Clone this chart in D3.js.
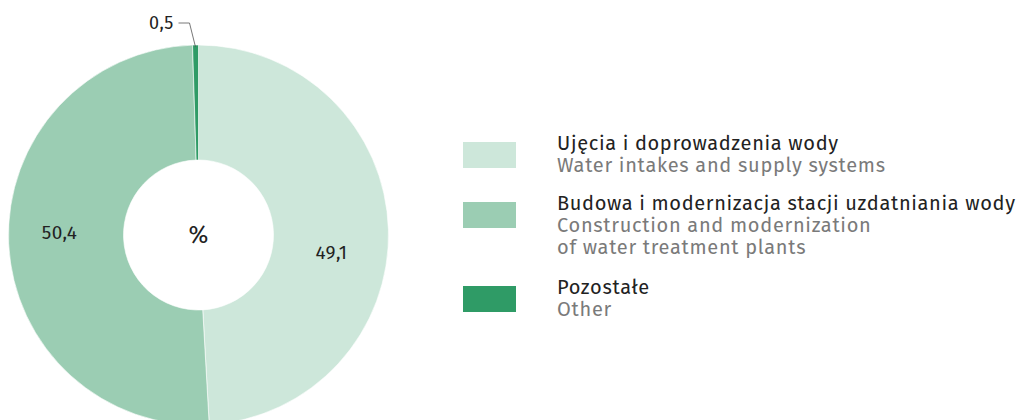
<!DOCTYPE html>
<html>
<head>
<meta charset="utf-8">
<script src="https://cdn.jsdelivr.net/npm/d3@7"></script>
<style>
  body { margin: 0; background: #fff; }
  svg { display: block; font-family: "Fira Sans", "Noto Sans", sans-serif; }
</style>
</head>
<body>
<div id="chart"></div>
<script>
// slice order clockwise from 12 o'clock
const labelsPl = ["Ujęcia i doprowadzenia wody", "Budowa i modernizacja stacji uzdatniania wody", "Pozostałe"];
const labelsEn = [["Water intakes and supply systems"], ["Construction and modernization", "of water treatment plants"], ["Other"]];
const values = [49.1, 50.4, 0.5];
const valueText = ["49,1", "50,4", "0,5"];
const colors = ["#cde7da", "#9bcdb3", "#2f9b66"];

const W = 1018, H = 420;
const cx = 198.5, cy = 235, R = 190, r0 = 75;

const svg = d3.select("#chart").append("svg")
  .attr("width", W)
  .attr("height", H);

const pie = d3.pie().sort(null).value(d => d);
const arcs = pie(values);
const arc = d3.arc().innerRadius(r0).outerRadius(R);

const g = svg.append("g").attr("transform", `translate(${cx},${cy})`);

g.selectAll("path")
  .data(arcs)
  .enter()
  .append("path")
  .attr("d", arc)
  .attr("fill", (d, i) => colors[i])
  .attr("stroke", "#fff")
  .attr("stroke-width", 0.6);

// value labels inside the two big slices
g.selectAll("text.val")
  .data(arcs.slice(0, 2))
  .enter()
  .append("text")
  .attr("class", "val")
  .attr("x", (d, i) => i === 0 ? 133 : -139)
  .attr("y", (d, i) => i === 0 ? 24 : 4)
  .attr("text-anchor", "middle")
  .attr("font-size", 19)
  .attr("letter-spacing", 0.3)
  .attr("fill", "#222")
  .text((d, i) => valueText[i]);

// small slice callout
const small = arcs[2];
const mid = (small.startAngle + small.endAngle) / 2;
const px = Math.sin(mid) * R, py = -Math.cos(mid) * R;
g.append("polyline")
  .attr("points", [[px, py + 2], [px - 6, -212], [px - 17, -212]].map(p => p.join(",")).join(" "))
  .attr("fill", "none")
  .attr("stroke", "#555")
  .attr("stroke-width", 0.8);
g.append("text")
  .attr("x", px - 22)
  .attr("y", -206)
  .attr("text-anchor", "end")
  .attr("font-size", 18)
  .attr("letter-spacing", 0.3)
  .attr("fill", "#222")
  .text(valueText[2]);

g.append("text")
  .attr("x", 0)
  .attr("y", 8)
  .attr("text-anchor", "middle")
  .attr("font-size", 24)
  .attr("fill", "#222")
  .text("%");

// legend
const swatchY = [142, 202, 286];
const legend = svg.append("g");
labelsPl.forEach((t, i) => {
  const y0 = swatchY[i];
  legend.append("rect")
    .attr("x", 463).attr("y", y0)
    .attr("width", 53).attr("height", 26)
    .attr("fill", colors[i]);
  legend.append("text")
    .attr("x", 557).attr("y", y0 + 8)
    .attr("font-size", 20)
    .attr("letter-spacing", 0.65)
    .attr("fill", "#222")
    .text(t);
  labelsEn[i].forEach((s, j) => {
    legend.append("text")
      .attr("x", 557).attr("y", y0 + 30 + j * 22)
      .attr("font-size", 20)
      .attr("letter-spacing", 0.7)
      .attr("fill", "#7a7a7a")
      .text(s);
  });
});
</script>
</body>
</html>
